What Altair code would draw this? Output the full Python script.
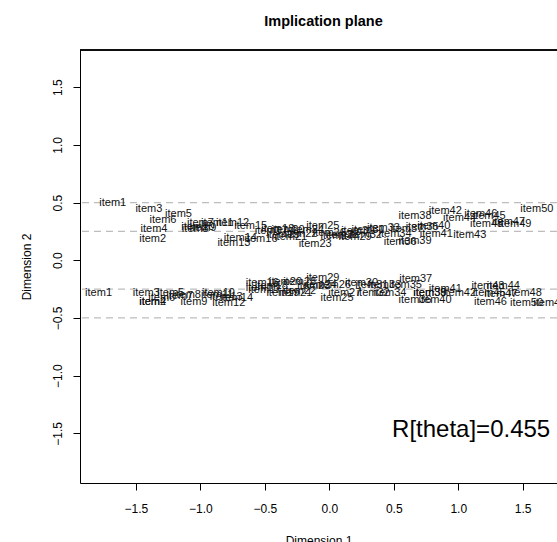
import altair as alt
import pandas as pd

FONT = "Liberation Sans"

items = [f"item{i}" for i in range(1, 51)]

upper_x = [-1.68, -1.37, -1.40, -1.36, -1.17, -1.29, -1.00, -1.04, -0.98, -1.02,
           -0.87, -0.75, -0.74, -0.69, -0.61, -0.53, -0.45, -0.40, -0.36, -0.32,
           -0.30, -0.22, -0.11, -0.17, -0.05, 0.00, 0.06, 0.10, 0.20, 0.22,
           0.30, 0.28, 0.42, 0.51, 0.72, 0.55, 0.60, 0.665, 0.665, 0.81,
           0.83, 0.90, 1.09, 1.01, 1.24, 1.175, 1.39, 1.22, 1.44, 1.61]
upper_y = [0.50, 0.18, 0.445, 0.27, 0.40, 0.345, 0.32, 0.27, 0.28, 0.29,
           0.32, 0.32, 0.15, 0.19, 0.30, 0.18, 0.25, 0.27, 0.22, 0.26,
           0.20, 0.23, 0.14, 0.26, 0.30, 0.24, 0.21, 0.22, 0.20, 0.25,
           0.26, 0.22, 0.28, 0.23, 0.29, 0.16, 0.27, 0.38, 0.17, 0.30,
           0.23, 0.43, 0.22, 0.365, 0.38, 0.40, 0.335, 0.315, 0.315, 0.445]

lower_x = [-1.79, -1.37, -1.42, -1.37, -1.23, -1.30, -1.16, -1.10, -1.05, -0.86,
           -0.87, -0.78, -0.80, -0.72, -0.52, -0.52, -0.50, -0.45, -0.36, -0.34,
           -0.26, -0.23, -0.12, -0.07, 0.06, 0.04, 0.12, -0.23, -0.05, 0.25,
           0.33, 0.34, 0.43, 0.47, 0.59, 0.665, 0.67, 0.78, 0.78, 0.82,
           0.90, 1.01, 1.23, 1.35, 1.24, 1.25, 1.33, 1.52, 1.71, 1.53]
lower_y = [-0.28, -0.36, -0.285, -0.365, -0.285, -0.33, -0.31, -0.30, -0.36, -0.28,
           -0.30, -0.37, -0.32, -0.325, -0.24, -0.20, -0.26, -0.22, -0.28, -0.19,
           -0.28, -0.27, -0.22, -0.215, -0.33, -0.21, -0.28, -0.185, -0.155, -0.20,
           -0.215, -0.285, -0.215, -0.285, -0.215, -0.34, -0.165, -0.28, -0.285, -0.345,
           -0.25, -0.28, -0.22, -0.22, -0.285, -0.36, -0.29, -0.285, -0.37, -0.37]

ref_lines = [0.5, 0.25, -0.25, -0.5]
x_ticks = [-1.5, -1.0, -0.5, 0.0, 0.5, 1.0, 1.5]
y_ticks = [-1.5, -1.0, -0.5, 0.0, 0.5, 1.0, 1.5]
annotation = ["R[theta]=0.455"]
annot_x = [1.1]
annot_y = [-1.47]

X_DOM = [-1.934, 1.766]
Y_DOM = [-1.930, 1.822]

pts = pd.DataFrame({
    "label": items + items,
    "x": upper_x + lower_x,
    "y": upper_y + lower_y,
})
lines = pd.DataFrame({"y": ref_lines})
ann = pd.DataFrame({"label": annotation, "x": annot_x, "y": annot_y})

xs = alt.Scale(domain=X_DOM, nice=False, zero=False)
ys = alt.Scale(domain=Y_DOM, nice=False, zero=False)

x_axis = alt.Axis(values=x_ticks, format=".1f", grid=False, domain=True,
                  domainColor="black", tickColor="black", tickSize=7,
                  labelFont=FONT, labelFontSize=12, labelColor="black",
                  labelPadding=13, titleFont=FONT, titleFontSize=12,
                  titleFontWeight="normal", titleColor="black", titlePadding=21,
                  labelFlush=False)
y_axis = alt.Axis(values=y_ticks, format=".1f", grid=False, domain=True,
                  domainColor="black", tickColor="black", tickSize=7,
                  labelFont=FONT, labelFontSize=12, labelColor="black",
                  labelAngle=-90, labelAlign="center", labelBaseline="bottom",
                  labelPadding=9, titleFont=FONT, titleFontSize=12,
                  titleFontWeight="normal", titleColor="black", titlePadding=18,
                  labelFlush=False)

dashes = alt.Chart(lines).mark_rule(color="#bdbdbd", strokeDash=[7, 5], strokeWidth=1.2).encode(
    y=alt.Y("y:Q", scale=ys, axis=y_axis, title="Dimension 2"),
)

labels = alt.Chart(pts).mark_text(font=FONT, fontSize=11, color="#111111",
                                  align="center", baseline="middle").encode(
    x=alt.X("x:Q", scale=xs, axis=x_axis, title="Dimension 1"),
    y=alt.Y("y:Q", scale=ys),
    text="label:N",
)

annot = alt.Chart(ann).mark_text(font=FONT, fontSize=24, color="black",
                                 align="center", baseline="middle").encode(
    x=alt.X("x:Q", scale=xs),
    y=alt.Y("y:Q", scale=ys),
    text="label:N",
)

top_rule = alt.Chart(lines).mark_rule(color="black", strokeWidth=1).encode(
    y=alt.value(0),
)

chart = alt.layer(dashes, labels, annot, top_rule).properties(
    width=477,
    height=433,
    title=alt.Title("Implication plane", font=FONT, fontSize=14.5,
                    fontWeight="bold", color="black", anchor="middle",
                    dx=5, offset=20),
    autosize=alt.AutoSizeParams(type="none"),
    padding={"left": 80, "top": 50, "right": 0, "bottom": 59},
).configure_view(stroke=None).configure(background="white")

chart.save("out.html", embed_options={"renderer": "svg", "actions": False})
